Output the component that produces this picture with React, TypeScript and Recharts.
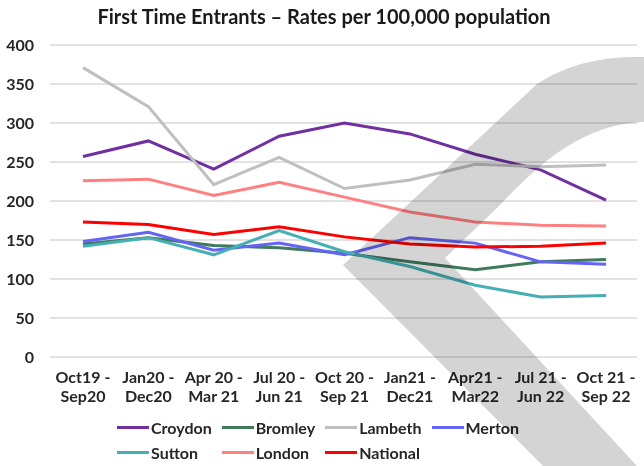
import { LineChart, Line, XAxis, YAxis, CartesianGrid } from 'recharts';

const PERIODS = [
  'Oct19 - Sep20', 'Jan20 - Dec20', 'Apr 20 - Mar 21', 'Jul 20 - Jun 21', 'Oct 20 - Sep 21',
  'Jan21 - Dec21', 'Apr21 - Mar22', 'Jul 21 - Jun 22', 'Oct 21 - Sep 22',
];

const CROYDON = [257, 277, 241, 283, 300, 286, 260, 240, 201];
const BROMLEY = [145, 153, 143, 140, 133, 122, 112, 122, 125];
const LAMBETH = [371, 321, 221, 256, 216, 227, 247, 244, 246];
const MERTON = [148, 160, 137, 146, 131, 153, 146, 122, 119];
const SUTTON = [142, 153, 131, 162, 135, 116, 92, 77, 79];
const LONDON = [226, 228, 207, 224, 205, 186, 173, 169, 168];
const NATIONAL = [173, 170, 157, 167, 154, 145, 141, 142, 146];

const Y_TICKS = [0, 50, 100, 150, 200, 250, 300, 350, 400];

const SERIES = [
  { key: 'Croydon', values: CROYDON, color: '#7030A0' },
  { key: 'Bromley', values: BROMLEY, color: '#3F7A5C' },
  { key: 'Lambeth', values: LAMBETH, color: '#BFBFBF' },
  { key: 'Merton', values: MERTON, color: '#6464F5' },
  { key: 'Sutton', values: SUTTON, color: '#45AFB3' },
  { key: 'London', values: LONDON, color: '#FF8080' },
  { key: 'National', values: NATIONAL, color: '#FF0000' },
];

const data = PERIODS.map((period, i) => {
  const row: Record<string, string | number> = { period };
  SERIES.forEach((s) => { row[s.key] = s.values[i]; });
  return row;
});

const FONT = 'Lato, "Open Sans", sans-serif';
const TEXT = '#262626';

function PeriodTick({ x, y, payload }: any) {
  const [from, to] = String(payload.value).split(' - ');
  return (
    <text x={x} y={y} textAnchor="middle" fill={TEXT} fontSize={16} fontWeight={700} fontFamily={FONT}>
      <tspan x={x} dy={24}>{from} -</tspan>
      <tspan x={x} dy={19}>{to}</tspan>
    </text>
  );
}

export default function App() {
  return (
    <div style={{ position: 'absolute', left: 0, top: 0, width: 644, height: 466, background: '#fff', fontFamily: FONT }}>
      <div style={{ position: 'absolute', top: 4, left: 0, width: 648, textAlign: 'center', fontSize: 20, fontWeight: 700, color: '#1a1a1a' }}>
        First Time Entrants – Rates per 100,000 population
      </div>

      <LineChart width={644} height={412} data={data} margin={{ top: 45, right: 7, left: 0, bottom: 0 }}>
        <CartesianGrid vertical={false} stroke="#D9D9D9" strokeWidth={1.3} />
        <XAxis
          dataKey="period"
          interval={0}
          axisLine={false}
          tickLine={false}
          tickSize={0}
          height={55}
          padding={{ left: 33, right: 31 }}
          tick={<PeriodTick />}
        />
        <YAxis
          domain={[0, 400]}
          ticks={Y_TICKS}
          axisLine={false}
          tickLine={false}
          tickSize={0}
          tickMargin={16}
          width={50}
          tick={{ fill: TEXT, fontSize: 16, fontWeight: 700, fontFamily: FONT }}
        />
        {SERIES.map((s) => (
          <Line
            key={s.key}
            type="linear"
            dataKey={s.key}
            stroke={s.color}
            strokeWidth={3}
            dot={false}
            isAnimationActive={false}
          />
        ))}
      </LineChart>

      {/* legend */}
      <div style={{
        position: 'absolute', left: 117, top: 417, display: 'grid',
        gridTemplateColumns: 'repeat(4, max-content)', columnGap: 10, rowGap: 5,
        fontSize: 16, fontWeight: 700, color: TEXT,
      }}>
        {SERIES.map((s) => (
          <div key={s.key} style={{ display: 'flex', alignItems: 'center', height: 20 }}>
            <span style={{ width: 32, height: 3, background: s.color, marginRight: 2 }} />
            <span>{s.key}</span>
          </div>
        ))}
      </div>

      {/* grey logo watermark */}
      <svg width={644} height={466} style={{ position: 'absolute', left: 0, top: 0, pointerEvents: 'none', mixBlendMode: 'multiply' }}>
        <path
          d="M644,57 C608,56 570,62 537,84 L343,265 L543,466 L637,466 L445,258 L500,205 C535,168 580,124 644,122 Z"
          fill="#D4D4D4"
        />
      </svg>
    </div>
  );
}
